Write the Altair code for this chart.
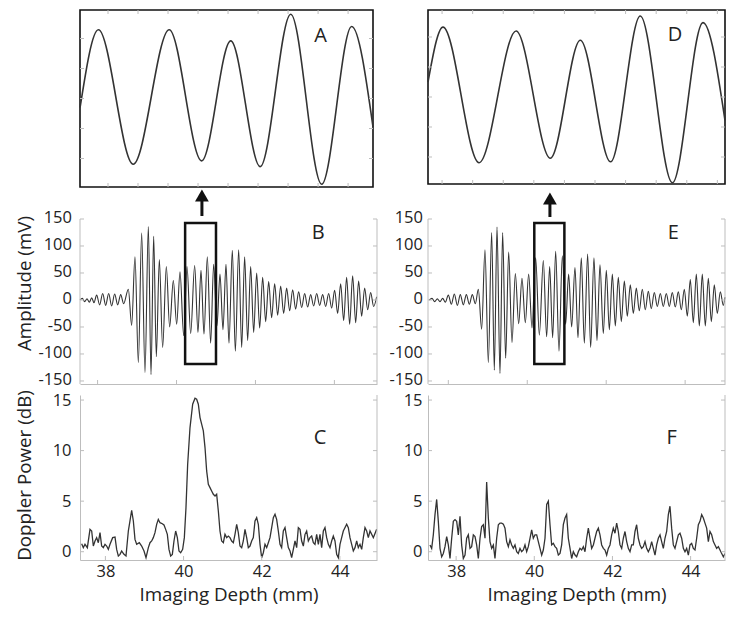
import altair as alt
import pandas as pd

# ---------------- data ----------------
# Panel A: zoom into the boxed part of B (extrema of the waveform)
a_x = [0.07, 0.68, 1.84, 3.04, 4.12, 5.09, 6.07, 7.09, 8.12, 9.12, 9.83]
a_y = [-0.30, 2.29, -2.19, 2.29, -2.08, 1.92, -2.27, 2.81, -2.86, 2.40, -0.95]
# Panel D: zoom into the boxed part of E
d_x = [0.54, 1.03, 2.21, 3.42, 4.54, 5.52, 6.51, 7.48, 8.53, 9.53, 10.25]
d_y = [0.50, 2.33, -2.19, 2.20, -2.04, 1.89, -2.16, 2.70, -2.86, 2.48, -0.78]

# Panel B: RF signal extrema (depth mm, amplitude mV)
b_depth = [37.350, 37.410, 37.469, 37.529, 37.589, 37.649, 37.708, 37.776, 37.853, 37.930,
           38.007, 38.084, 38.160, 38.237, 38.314, 38.391, 38.467, 38.587, 38.672, 38.757,
           38.843, 38.928, 39.013, 39.099, 39.167, 39.235, 39.303, 39.380, 39.465, 39.559,
           39.644, 39.738, 39.824, 39.909, 40.003, 40.088, 40.182, 40.284, 40.369, 40.446,
           40.523, 40.608, 40.693, 40.770, 40.855, 40.932, 41.009, 41.086, 41.162, 41.248,
           41.325, 41.410, 41.487, 41.563, 41.640, 41.717, 41.794, 41.871, 41.947, 42.024,
           42.101, 42.178, 42.254, 42.331, 42.408, 42.485, 42.561, 42.638, 42.715, 42.792,
           42.868, 42.945, 43.022, 43.099, 43.175, 43.252, 43.329, 43.406, 43.482, 43.559,
           43.636, 43.713, 43.790, 43.866, 43.943, 44.020, 44.097, 44.173, 44.250, 44.327,
           44.404, 44.480, 44.557, 44.634, 44.711, 44.787, 44.864, 44.941]
b_mv = [0, 3, -3, 2, -4, 4, -5, 9, -9, 12,
        -10, 12, -11, 11, -9, 10, -7, 20, -47, 80,
        -116, 124, -134, 136, -138, 118, -105, 75, -88, 62,
        -50, 36, -45, 52, -66, 62, -62, 64, -60, 55,
        -63, 80, -80, 66, -48, 48, -55, 66, -80, 92,
        -95, 93, -88, 80, -75, 62, -60, 50, -52, 42,
        -40, 34, -33, 30, -28, 26, -25, 22, -20, 19,
        -17, 15, -14, 12, -13, 10, -11, 12, -10, 10,
        -12, 12, -15, 18, -25, 30, -38, 42, -45, 45,
        -42, 35, -30, 22, -18, 14, -12, 6]

# Panel E: RF signal extrema
e_depth = [37.314, 37.382, 37.451, 37.519, 37.587, 37.655, 37.724, 37.800, 37.877, 37.954,
           38.031, 38.107, 38.184, 38.261, 38.338, 38.414, 38.491, 38.568, 38.653, 38.738,
           38.824, 38.909, 38.977, 39.046, 39.122, 39.190, 39.267, 39.344, 39.429, 39.515,
           39.600, 39.685, 39.770, 39.856, 39.941, 40.035, 40.129, 40.231, 40.316, 40.393,
           40.470, 40.547, 40.632, 40.717, 40.802, 40.879, 40.956, 41.041, 41.118, 41.203,
           41.280, 41.365, 41.442, 41.527, 41.604, 41.681, 41.766, 41.843, 41.920, 41.997,
           42.073, 42.150, 42.227, 42.304, 42.380, 42.457, 42.534, 42.611, 42.687, 42.764,
           42.841, 42.918, 42.994, 43.071, 43.148, 43.225, 43.301, 43.378, 43.455, 43.532,
           43.608, 43.685, 43.762, 43.839, 43.916, 43.992, 44.069, 44.146, 44.223, 44.299,
           44.376, 44.453, 44.530, 44.606, 44.683, 44.760, 44.837, 44.879]
e_mv = [0, 3, -3, 2, -3, 3, -4, 9, -8, 11,
        -10, 10, -9, 10, -8, 10, -7, 20, -54, 93,
        -116, 125, -130, 135, -136, 125, -108, 89, -79, 49,
        -44, 40, -42, 48, -52, 78, -65, 73, -68, 62,
        -70, 90, -95, 82, -45, 48, -50, 60, -70, 78,
        -80, 85, -88, 78, -75, 65, -62, 55, -55, 48,
        -48, 42, -40, 35, -30, 28, -25, 22, -20, 20,
        -18, 16, -16, 14, -12, 12, -12, 12, -12, 14,
        -13, 15, -18, 20, -30, 38, -42, 48, -48, 48,
        -48, 40, -40, 28, -25, 15, -10, 5]

# Panel C: Doppler power (dB)
c_depth = [37.393, 37.435, 37.478, 37.538, 37.606, 37.649, 37.691, 37.734, 37.776, 37.819,
           37.862, 37.904, 37.947, 37.990, 38.032, 38.075, 38.118, 38.186, 38.246, 38.288,
           38.331, 38.374, 38.416, 38.476, 38.527, 38.587, 38.629, 38.672, 38.715, 38.757,
           38.800, 38.868, 38.928, 38.988, 39.039, 39.099, 39.141, 39.184, 39.226, 39.269,
           39.312, 39.354, 39.397, 39.457, 39.499, 39.542, 39.585, 39.627, 39.670, 39.713,
           39.755, 39.798, 39.841, 39.883, 39.926, 39.977, 40.020, 40.062, 40.105, 40.165,
           40.233, 40.293, 40.335, 40.378, 40.421, 40.463, 40.506, 40.549, 40.591, 40.634,
           40.677, 40.719, 40.762, 40.805, 40.847, 40.890, 40.932, 40.975, 41.018, 41.060,
           41.103, 41.146, 41.188, 41.231, 41.274, 41.316, 41.359, 41.401, 41.444, 41.487,
           41.529, 41.572, 41.615, 41.657, 41.700, 41.743, 41.785, 41.828, 41.871, 41.913,
           41.956, 41.999, 42.041, 42.084, 42.127, 42.169, 42.212, 42.255, 42.297, 42.340,
           42.382, 42.425, 42.468, 42.510, 42.553, 42.596, 42.638, 42.681, 42.724, 42.766,
           42.809, 42.852, 42.894, 42.937, 42.980, 43.022, 43.065, 43.108, 43.150, 43.193,
           43.235, 43.278, 43.321, 43.363, 43.406, 43.449, 43.491, 43.534, 43.577, 43.619,
           43.662, 43.705, 43.747, 43.790, 43.832, 43.875, 43.918, 43.960, 44.003, 44.046,
           44.088, 44.174, 44.216, 44.259, 44.302, 44.344, 44.387, 44.430, 44.472, 44.515,
           44.558, 44.600, 44.643, 44.686, 44.728, 44.771, 44.856, 44.941]
c_db = [0.79, 0.40, 0.73, 0.40, 2.21, 2.05, 0.56, 1.06, 1.39, 0.89,
        1.88, 0.56, 0.40, 0.73, 0.56, 0.23, 0.73, 1.39, 1.45, 0.23,
        -0.43, -0.26, 0.07, -0.26, -0.43, 2.05, 3.04, 4.10, 3.04, 1.22,
        0.73, 0.89, 0.56, 0.07, -0.59, 0.40, 0.89, 1.06, 1.39, 1.88,
        2.71, 3.20, 2.87, 2.77, 2.64, 2.21, 1.72, 0.23, -0.43, -0.26,
        1.06, 2.05, 1.39, 0.07, -0.10, 0.23, 1.39, 4.36, 8.65, 12.28,
        14.59, 15.18, 15.08, 14.59, 13.27, 12.61, 11.95, 10.30, 7.99, 6.67,
        6.34, 6.01, 5.68, 5.51, 5.68, 4.03, 2.05, 1.06, 0.89, 1.72,
        1.39, 1.55, 1.39, 1.06, 0.89, 1.72, 2.71, 1.88, 0.56, 0.40,
        1.06, 2.21, 1.39, 0.40, 0.56, 1.06, 1.39, 3.04, 3.37, 2.71,
        0.73, -0.59, -0.10, 0.73, 0.40, 0.89, 1.39, 2.38, 3.37, 3.70,
        3.20, 2.05, 0.73, 0.40, 2.05, 2.38, 1.39, 0.40, 0.07, -0.59,
        0.23, 1.06, 0.40, 2.38, 2.21, 1.06, 0.56, 1.72, 2.05, 1.06,
        1.39, 1.55, 0.89, 0.73, 1.72, 0.73, 1.72, 0.40, 2.05, 2.38,
        1.39, 0.73, 0.40, 1.06, 1.55, 1.06, -0.26, -0.59, 0.73, 1.39,
        2.05, 2.71, 2.38, 1.39, 0.73, 0.07, 0.40, 1.06, 0.40, 0.73,
        0.23, 1.39, 2.38, 2.05, 1.39, 2.05, 1.39, 2.21]

# Panel F: Doppler power (dB)
f_depth = [37.331, 37.374, 37.416, 37.459, 37.502, 37.544, 37.587, 37.630, 37.672, 37.715,
           37.758, 37.800, 37.843, 37.886, 37.928, 37.971, 38.014, 38.056, 38.099, 38.141,
           38.184, 38.227, 38.269, 38.312, 38.355, 38.397, 38.440, 38.483, 38.525, 38.568,
           38.611, 38.653, 38.696, 38.739, 38.781, 38.824, 38.866, 38.909, 38.952, 38.994,
           39.037, 39.080, 39.122, 39.165, 39.208, 39.250, 39.293, 39.336, 39.378, 39.421,
           39.464, 39.506, 39.549, 39.591, 39.634, 39.677, 39.719, 39.762, 39.805, 39.847,
           39.890, 39.933, 39.975, 40.018, 40.061, 40.103, 40.146, 40.189, 40.231, 40.274,
           40.317, 40.359, 40.402, 40.444, 40.487, 40.530, 40.572, 40.615, 40.658, 40.700,
           40.743, 40.786, 40.828, 40.871, 40.914, 40.956, 40.999, 41.042, 41.084, 41.127,
           41.169, 41.212, 41.255, 41.297, 41.340, 41.383, 41.425, 41.468, 41.511, 41.553,
           41.596, 41.639, 41.681, 41.724, 41.767, 41.809, 41.852, 41.894, 41.937, 41.980,
           42.022, 42.065, 42.108, 42.150, 42.193, 42.236, 42.278, 42.321, 42.364, 42.406,
           42.449, 42.492, 42.534, 42.577, 42.619, 42.662, 42.705, 42.747, 42.790, 42.833,
           42.875, 42.918, 42.961, 43.003, 43.046, 43.089, 43.131, 43.174, 43.217, 43.259,
           43.302, 43.344, 43.387, 43.430, 43.472, 43.515, 43.558, 43.600, 43.643, 43.686,
           43.728, 43.771, 43.814, 43.856, 43.899, 43.942, 43.984, 44.027, 44.070, 44.112,
           44.155, 44.198, 44.240, 44.283, 44.326, 44.368, 44.411, 44.454, 44.496, 44.539,
           44.582, 44.624, 44.667, 44.710, 44.752, 44.795, 44.838, 44.880]
f_db = [0.67, 0.33, 1.67, 3.67, 5.17, 3.00, 0.33, -0.50, -0.17, 0.50,
        1.50, 0.67, -0.67, 1.33, 3.00, 3.17, 3.00, 1.67, 3.50, 0.67,
        -0.67, -0.33, 1.33, 1.67, 0.33, 0.50, 1.67, 1.50, 0.67, -0.67,
        1.33, 2.50, 2.67, 1.33, 6.90, 3.33, 1.00, 0.33, 0.67, -0.67,
        1.33, 2.67, 2.83, 2.83, 2.73, 2.33, 1.00, 0.50, 1.17, 0.67,
        0.33, 0.67, 0.00, -0.17, 0.33, 0.00, 0.17, 0.67, 0.00, 0.50,
        1.33, 2.17, 1.33, 1.67, 1.67, 1.00, 0.33, -0.33, 0.17, 1.33,
        4.67, 5.00, 2.67, 0.67, 0.83, 0.50, 0.33, -0.33, -0.17, 0.67,
        2.67, 3.33, 3.67, 1.33, 0.33, -0.67, 0.00, -0.33, -0.50, 0.00,
        0.33, 0.17, 0.50, 0.00, 1.33, 2.33, 1.33, 0.33, 0.67, 1.33,
        2.00, 2.33, 1.67, 0.67, 0.33, 0.17, -0.33, 0.33, 0.67, 1.67,
        2.33, 1.83, 2.83, 2.00, 0.67, 0.33, 1.33, 2.00, 1.00, 0.33,
        0.00, 0.67, 0.67, 2.00, 2.67, 1.33, 0.67, 0.33, 0.50, 1.00,
        0.33, 0.00, 0.33, 1.00, 0.33, -0.33, 0.67, 1.33, 1.67, 1.00,
        0.33, 1.33, 2.00, 3.67, 4.50, 2.33, 0.67, 0.33, 1.00, 1.67,
        1.83, 1.33, 0.33, 0.00, 0.33, -0.33, 0.67, 0.83, 0.33, 0.17,
        1.33, 2.67, 3.00, 3.67, 3.33, 2.83, 2.33, 1.00, 2.00, 1.67,
        1.00, 0.67, 0.33, 0.50, 0.17, -0.17, -0.50, -0.17]

assert len(b_depth) == len(b_mv)
assert len(e_depth) == len(e_mv)
assert len(c_depth) == len(c_db)
assert len(f_depth) == len(f_db)

# zoom boxes and arrows (depth mm, mV)
b_box_x = [40.04, 40.83]
e_box_x = [40.00, 40.77]
box_mv = [-118.5, 142.6]
b_arrow = {"x": 40.47, "y0": 155.6, "y1": 185.2, "yh": 193.7}
e_arrow = {"x": 40.40, "y0": 153.7, "y1": 183.3, "yh": 187.8}

# tick values
a_xticks = [1, 2, 3, 4, 5, 6, 7, 8, 9]
d_xticks = [1, 2, 3, 4, 5, 6, 7, 8, 9, 10]
zoom_yticks = [-2, -1, 0, 1, 2]
mv_ticks = [-150, -100, -50, 0, 50, 100, 150]
mv_labels = ["-150", "-100", "-50", "0", "50", "100", "150"]
rf_xticks = [37.80, 39.82, 41.84, 43.86]
db_ticks = [0, 5, 10, 15]
depth_ticks = [38, 40, 42, 44]

# ---------------- style ----------------
FONT = "Open Sans"
GRAY = "#bdbdbd"
INK = "#333333"
TXT = "#222222"
LABEL_SIZE = 16.5
W = 297
H_A, H_D, H_B, H_C = 177, 174, 186, 165
LEFT_DOM = [37.35, 44.95]
RIGHT_DOM = [37.28, 44.88]
MV_DOM = [-155.6, 188.9]
DB_DOM = [-0.82, 15.5]


def sc(dom):
    return alt.Scale(domain=dom, nice=False, zero=False)


def tick_layers(xs, ys, w, h, xvals=None, yvals=None, top=False, right=False,
                length=4, noaxis=False):
    def X(f):
        return alt.X(f, scale=xs, axis=None) if noaxis else alt.X(f, scale=xs)

    def Y(f):
        return alt.Y(f, scale=ys, axis=None) if noaxis else alt.Y(f, scale=ys)

    out = []
    if xvals is not None:
        df = pd.DataFrame({"v": xvals})
        base = alt.Chart(df).mark_rule(color=GRAY, strokeWidth=1)
        out.append(base.encode(x=X("v:Q"), y=alt.value(h - length), y2=alt.value(h)))
        if top:
            out.append(base.encode(x=X("v:Q"), y=alt.value(0), y2=alt.value(length)))
    if yvals is not None:
        df = pd.DataFrame({"w": yvals})
        base = alt.Chart(df).mark_rule(color=GRAY, strokeWidth=1)
        out.append(base.encode(y=Y("w:Q"), x=alt.value(0), x2=alt.value(length)))
        if right:
            out.append(base.encode(y=Y("w:Q"), x=alt.value(w - length), x2=alt.value(w)))
    return out


def letter(t, px, py):
    return alt.Chart(pd.DataFrame({"t": [t]})).mark_text(
        font=FONT, fontSize=20, color=TXT, align="center", baseline="middle"
    ).encode(x=alt.value(px), y=alt.value(py), text="t:N")


def zoom_panel(xv, yv, xdom, ydom, w, h, xticks, tag, lx, ly):
    xs, ys = sc(xdom), sc(ydom)
    line = alt.Chart(pd.DataFrame({"x": xv, "y": yv})).mark_line(
        color=INK, strokeWidth=1.6, interpolate="monotone"
    ).encode(x=alt.X("x:Q", scale=xs, axis=None), y=alt.Y("y:Q", scale=ys, axis=None))
    layers = [line] + tick_layers(xs, ys, w, h, xvals=xticks, yvals=zoom_yticks,
                                  top=True, right=True, noaxis=True)
    layers.append(letter(tag, lx, ly))
    return alt.layer(*layers).properties(
        width=w, height=h, view=alt.ViewBackground(stroke="#111111", strokeWidth=1.6))


def rf_panel(dv, mv, xdom, box_x, arrow, tag, lx, ly, title, lpad):
    xs, ys = sc(xdom), sc(MV_DOM)
    yaxis = alt.Axis(labels=False, ticks=False, domain=False, grid=False,
                     title=title, titleX=-46, titleY=85)
    line = alt.Chart(pd.DataFrame({"d": dv, "v": mv})).mark_line(
        color=INK, strokeWidth=1.1, interpolate="monotone"
    ).encode(
        x=alt.X("d:Q", scale=xs, axis=alt.Axis(labels=False, ticks=False, grid=False,
                                               domainColor=GRAY, title=None)),
        y=alt.Y("v:Q", scale=ys, axis=yaxis))
    labels = alt.Chart(pd.DataFrame({"w": mv_ticks, "s": mv_labels})).mark_text(
        font=FONT, fontSize=LABEL_SIZE, color=TXT, align="right", baseline="middle", dy=-1
    ).encode(y=alt.Y("w:Q", scale=ys), x=alt.value(-lpad), text="s:N")
    frame_df = pd.DataFrame({"a": [MV_DOM[0]], "b": [mv_ticks[-1]]})
    left = alt.Chart(frame_df).mark_rule(color=GRAY, strokeWidth=1).encode(
        x=alt.value(0), y=alt.Y("a:Q", scale=ys), y2="b:Q")
    rightl = alt.Chart(frame_df).mark_rule(color=GRAY, strokeWidth=1).encode(
        x=alt.value(W), y=alt.Y("a:Q", scale=ys), y2="b:Q")
    box = alt.Chart(pd.DataFrame({"x0": [box_x[0]], "x1": [box_x[1]],
                                  "y0": [box_mv[0]], "y1": [box_mv[1]]})).mark_rect(
        fillOpacity=0, stroke="#111111", strokeWidth=2.5
    ).encode(x=alt.X("x0:Q", scale=xs), x2="x1:Q",
             y=alt.Y("y0:Q", scale=ys), y2="y1:Q")
    adf = pd.DataFrame({k: [v] for k, v in arrow.items()})
    shaft = alt.Chart(adf).mark_rule(color="#111111", strokeWidth=3).encode(
        x=alt.X("x:Q", scale=xs), y=alt.Y("y0:Q", scale=ys), y2="y1:Q")
    head = alt.Chart(adf).mark_point(shape="triangle-up", filled=True, size=190,
                                     color="#111111", opacity=1).encode(
        x=alt.X("x:Q", scale=xs), y=alt.Y("yh:Q", scale=ys))
    layers = [line, labels, left, rightl] + tick_layers(xs, ys, W, H_B, xvals=rf_xticks,
                                                        yvals=mv_ticks, right=True)
    layers += [box, shaft, head, letter(tag, lx, ly)]
    return alt.layer(*layers).properties(width=W, height=H_B)


def db_panel(dv, db, xdom, tag, lx, ly, title, lpad):
    xs, ys = sc(xdom), sc(DB_DOM)
    line = alt.Chart(pd.DataFrame({"d": dv, "p": db})).mark_line(
        color=INK, strokeWidth=1.3, clip=True
    ).encode(
        x=alt.X("d:Q", scale=xs, axis=alt.Axis(values=depth_ticks, ticks=False, grid=False,
                                               domainColor=GRAY, labelFlush=False,
                                               labelBaseline="alphabetic", labelPadding=16,
                                               title="Imaging Depth (mm)", titleY=40,
                                               titleBaseline="alphabetic")),
        y=alt.Y("p:Q", scale=ys, axis=alt.Axis(values=db_ticks, ticks=False, grid=False,
                                               domainColor=GRAY, labelPadding=lpad,
                                               labelFlush=False, title=title,
                                               titleX=-46, titleY=80)))
    rightl = alt.Chart(pd.DataFrame({"k": [0]})).mark_rule(color=GRAY, strokeWidth=1).encode(
        x=alt.value(W), y=alt.value(0), y2=alt.value(H_C))
    layers = [line, rightl] + tick_layers(xs, ys, W, H_C, xvals=depth_ticks,
                                          yvals=db_ticks, right=True)
    layers.append(letter(tag, lx, ly))
    return alt.layer(*layers).properties(width=W, height=H_C)


A = zoom_panel(a_x, a_y, [0.067, 9.83], [-2.95, 2.95], 293, H_A, a_xticks, "A", 240.7, 26)
D = zoom_panel(d_x, d_y, [0.54, 10.25], [-2.9, 2.9], W, H_D, d_xticks, "D", 247, 25)
B = rf_panel(b_depth, b_mv, LEFT_DOM, b_box_x, b_arrow, "B", 238.3, 34.7, "Amplitude (mV)", 8)
E = rf_panel(e_depth, e_mv, RIGHT_DOM, e_box_x, e_arrow, "E", 245.3, 34.7, None, 5)
C = db_panel(c_depth, c_db, LEFT_DOM, "C", 240, 43.3, "Doppler Power (dB)", 9)
F = db_panel(f_depth, f_db, RIGHT_DOM, "F", 243.7, 43.3, None, 6)

chart = alt.concat(
    A, D, B, E, C, F, columns=2, spacing={"row": 11, "column": 51},
    bounds="flush", align="each"
).properties(
    padding={"left": 6, "top": 0, "right": 2, "bottom": 2}
).configure(font=FONT).configure_view(stroke="transparent").configure_axis(
    labelFont=FONT, titleFont=FONT, labelColor=TXT, titleColor=TXT,
    labelFontSize=LABEL_SIZE, titleFontSize=18.8, titleFontWeight="normal", grid=False,
    labelOverlap=False
)

chart.save("out.html", embed_options={"renderer": "svg", "actions": False})
